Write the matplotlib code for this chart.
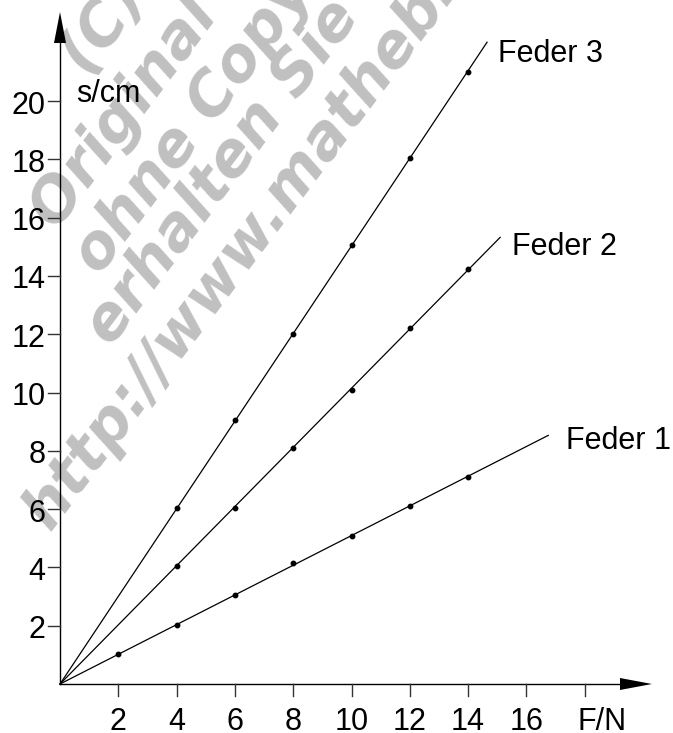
import matplotlib
matplotlib.use("Agg")
import matplotlib.pyplot as plt
import numpy as np

plt.rcParams["font.family"] = ["Liberation Sans", "DejaVu Sans"]

# measured spring extensions s (cm) for force F (N)
force_1 = [2, 4, 6, 8, 10, 12, 14]
ext_1 = [1.03, 2.02, 3.07, 4.15, 5.08, 6.10, 7.10]
force_2 = [4, 6, 8, 10, 12, 14]
ext_2 = [4.05, 6.05, 8.10, 10.10, 12.20, 14.25]
force_3 = [4, 6, 8, 10, 12, 14]
ext_3 = [6.05, 9.05, 12.00, 15.05, 18.05, 21.00]
line_end = [16.75, 15.1, 14.65]          # how far each fit line is drawn (F/N)
spring_names = ["Feder 1", "Feder 2", "Feder 3"]

x_ticks = [2, 4, 6, 8, 10, 12, 14, 16, 18]
x_ticklabels = ["2", "4", "6", "8", "10", "12", "14", "16", "F/N"]
y_ticks = [2, 4, 6, 8, 10, 12, 14, 16, 18, 20]

W, H = 673, 733
PX = 29.15          # pixels per unit
X0, Y0 = 60, 684    # origin in pixels (from top-left)

fig = plt.figure(figsize=(W / 100, H / 100), dpi=100)
ax = fig.add_axes([0, 0, 1, 1])
ax.set_xlim(-X0 / PX, (W - X0) / PX)
ax.set_ylim(-(H - Y0) / PX, Y0 / PX)
ax.axis("off")

# watermark (behind the drawing)
wm_lines = [
    ("(C) mathebibel.de", 88, 77),
    ("Original Bild", 57, 231),
    ("ohne Copyright", 100, 276),
    ("erhalten Sie unter", 111, 347),
    ("http://www.mathebibel.de", 50, 532),
]
for txt, px, py in wm_lines:
    ax.text(px / W, 1 - py / H, txt, transform=ax.transAxes, rotation=53,
            rotation_mode="anchor", ha="left", va="baseline", fontsize=43.5,
            family="DejaVu Sans", fontweight="bold", fontstyle="oblique",
            color="#c0c0c0", zorder=1)

# axes with arrows
u = 1 / PX
x_tip, y_tip = (652 - X0) / PX, (Y0 - 12) / PX
ax.plot([0, x_tip - 20 * u], [0, 0], color="black", lw=1.0, zorder=2)
ax.plot([0, 0], [0, y_tip - 20 * u], color="black", lw=1.0, zorder=2)
ax.fill([x_tip, x_tip - 32 * u, x_tip - 32 * u], [0, 6 * u, -6 * u], color="black", lw=0, zorder=2)
ax.fill([0, 6 * u, -6 * u], [y_tip, y_tip - 31 * u, y_tip - 31 * u], color="black", lw=0, zorder=2)

fs = 22
for xt, lab in zip(x_ticks, x_ticklabels):
    ax.plot([xt, xt], [0, -12 * u], color="#333333", lw=1.0, zorder=2)
    ax.text(xt if lab != "F/N" else 18.6, -1.58, lab, ha="center", va="baseline",
            fontsize=fs, zorder=3)
for yt in y_ticks:
    ax.plot([-12 * u, 0], [yt, yt], color="#333333", lw=1.0, zorder=2)
    ax.text(-0.5, yt - 0.43, str(yt), ha="right", va="baseline", fontsize=fs, zorder=3)

ax.text(0.55, 19.98, "s/cm", ha="left", va="baseline", fontsize=fs, zorder=3)

# data points and fitted proportional lines
series = [(force_1, ext_1), (force_2, ext_2), (force_3, ext_3)]
label_pos = [(17.36, 8.05), (15.5, 14.72), (15.03, 21.35)]
for (f, s), x_end, name, (lx, ly) in zip(series, line_end, spring_names, label_pos):
    f = np.asarray(f, dtype=float)
    s = np.asarray(s, dtype=float)
    k = float(np.sum(f * s) / np.sum(f * f))
    ax.plot([0, x_end], [0, k * x_end], color="black", lw=0.9, zorder=3)
    ax.plot(f, s, "o", color="black", markersize=3.2, zorder=4)
    ax.text(lx, ly, name, ha="left", va="baseline", fontsize=fs, zorder=3)

fig.savefig("out.png", dpi=100)
